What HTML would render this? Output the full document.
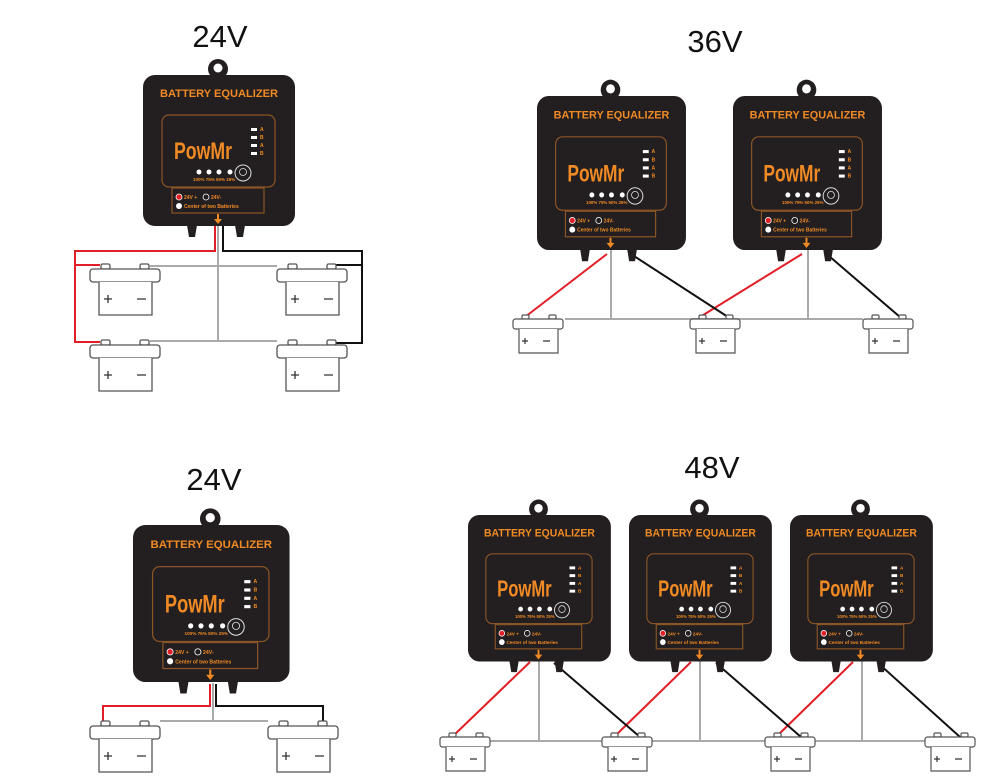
<!DOCTYPE html>
<html><head><meta charset="utf-8"><style>
html,body{margin:0;padding:0;background:#fff;}
svg{display:block;font-family:"Liberation Sans",sans-serif;}
.t{fill:#f08a24;font-weight:bold;}
.w{fill:#fff;}
</style></head><body>
<svg width="1000" height="784" viewBox="0 0 1000 784" xmlns="http://www.w3.org/2000/svg">
<g font-size="31" fill="#111" text-anchor="middle">
<text x="220" y="47">24V</text>
<text x="715" y="52">36V</text>
<text x="214" y="490">24V</text>
<text x="712" y="478">48V</text>
</g>

<g fill="none" stroke-width="2">
<path d="M218 225V342M150 266H277M150 341H277" stroke="#aaa"/>
<path d="M215 226V251H75V342H100M75 265H100" stroke="#e21e26"/>
<path d="M223 226V251H362V343H335M362 265H335" stroke="#111"/>
</g>
<g fill="#fff" stroke="#555" stroke-width="1.3">
<g id="bl1"><rect x="101" y="264" width="9" height="5" rx="1.5"/><rect x="140" y="264" width="9" height="5" rx="1.5"/><rect x="90" y="269" width="70" height="13" rx="3"/><path d="M99 282V315H152V282"/><path d="M104 299h8M108 295v8M137 299h9" stroke="#333"/></g>
<use href="#bl1" x="187"/><use href="#bl1" y="76"/><use href="#bl1" x="187" y="76"/>
</g>

<g fill="none" stroke-width="2">
<path d="M565 319H863M611 250V319M808 250V319" stroke="#aaa"/>
<path d="M607 254L525 317M802 254L700 317" stroke="#e21e26"/>
<path d="M634 256L728 317M829 256L900 317" stroke="#111"/>
</g>
<g fill="#fff" stroke="#555" stroke-width="1.2">
<g id="bs1"><rect x="522" y="315" width="7" height="4" rx="1.2"/><rect x="549" y="315" width="7" height="4" rx="1.2"/><rect x="513" y="319" width="50" height="10" rx="2.5"/><path d="M519 329V353H558V329"/><path d="M522 341h6M525 338v6M543 341h7" stroke="#333"/></g>
<use href="#bs1" x="177"/><use href="#bs1" x="350"/>
</g>

<g fill="none" stroke-width="2">
<path d="M213 683V721M160 721H268" stroke="#aaa"/>
<path d="M210 684V706H103V722" stroke="#e21e26"/>
<path d="M216 684V706H323V722" stroke="#111"/>
</g>
<g fill="#fff" stroke="#555" stroke-width="1.3">
<use href="#bl1" y="457"/><use href="#bl1" x="178" y="457"/>
</g>

<g fill="none" stroke-width="2">
<path d="M440 741H975M539 660V741M700 660V741M862 660V741" stroke="#aaa"/>
<path d="M530 662L452 737M691 662L614 737M853 662L776 737" stroke="#e21e26"/>
<path d="M554 663L640 737M716 663L801 737M878 663L960 737" stroke="#111"/>
</g>
<g fill="#fff" stroke="#555" stroke-width="1.2">
<use href="#bs1" x="-73" y="418"/><use href="#bs1" x="89" y="418"/><use href="#bs1" x="252" y="418"/><use href="#bs1" x="412" y="418"/>
</g>

<g transform="translate(143,75)">
<circle cx="75" cy="-6" r="10" fill="#231f20"/><circle cx="75" cy="-7" r="4.5" fill="#fff"/>
<path d="M44 150l2 12h6l2-12zM92 150l2 12h6l2-12z" fill="#231f20"/>
<rect x="0" y="0" width="152" height="151" rx="12" fill="#231f20"/>
<text class="t" x="17" y="22" font-size="11" textLength="118" lengthAdjust="spacingAndGlyphs">BATTERY EQUALIZER</text>
<rect x="19" y="40" width="113" height="72" rx="7" fill="none" stroke="#8a5526" stroke-width="1.2"/>
<text class="t" x="31" y="84" font-size="24" textLength="58" lengthAdjust="spacingAndGlyphs">PowMr</text>
<g class="w"><rect x="108" y="53" width="6" height="3"/><rect x="108" y="61" width="6" height="3"/><rect x="108" y="69" width="6" height="3"/><rect x="108" y="77" width="6" height="3"/></g>
<g class="t" font-size="5"><text x="117" y="56">A</text><text x="117" y="64">B</text><text x="117" y="72">A</text><text x="117" y="80">B</text></g>
<g class="w"><circle cx="56" cy="97" r="2.5"/><circle cx="66" cy="97" r="2.5"/><circle cx="76" cy="97" r="2.5"/><circle cx="87" cy="97" r="2.5"/></g>
<text class="t" x="50" y="106" font-size="4.5">100% 75%  50% 25%</text>
<circle cx="100" cy="98" r="8" fill="none" stroke="#ddd" stroke-width="1"/><circle cx="100" cy="97" r="3.5" fill="none" stroke="#ddd" stroke-width=".8"/>
<rect x="29" y="113" width="92" height="25" fill="none" stroke="#8a5526" stroke-width="1.2"/>
<circle cx="36" cy="122" r="3" fill="#e21e26" stroke="#fff" stroke-width=".8"/><text class="t" x="41" y="124" font-size="5">24V +</text>
<circle cx="63" cy="122" r="3" fill="none" stroke="#fff" stroke-width=".8"/><text class="t" x="68" y="124" font-size="5">24V-</text>
<circle cx="36" cy="131" r="3" fill="#fff"/><text class="t" x="41" y="133" font-size="5">Center of  two Batteries</text>
<path d="M75 139v6" stroke="#f08a24" stroke-width="2"/><path d="M71 144h8l-4 5z" fill="#f08a24"/>
</g>

<g transform="translate(537,96) scale(0.98,1.02)">
<circle cx="75" cy="-6" r="10" fill="#231f20"/><circle cx="75" cy="-7" r="4.5" fill="#fff"/>
<path d="M44 150l2 12h6l2-12zM92 150l2 12h6l2-12z" fill="#231f20"/>
<rect x="0" y="0" width="152" height="151" rx="12" fill="#231f20"/>
<text class="t" x="17" y="22" font-size="11" textLength="118" lengthAdjust="spacingAndGlyphs">BATTERY EQUALIZER</text>
<rect x="19" y="40" width="113" height="72" rx="7" fill="none" stroke="#8a5526" stroke-width="1.2"/>
<text class="t" x="31" y="84" font-size="24" textLength="58" lengthAdjust="spacingAndGlyphs">PowMr</text>
<g class="w"><rect x="108" y="53" width="6" height="3"/><rect x="108" y="61" width="6" height="3"/><rect x="108" y="69" width="6" height="3"/><rect x="108" y="77" width="6" height="3"/></g>
<g class="t" font-size="5"><text x="117" y="56">A</text><text x="117" y="64">B</text><text x="117" y="72">A</text><text x="117" y="80">B</text></g>
<g class="w"><circle cx="56" cy="97" r="2.5"/><circle cx="66" cy="97" r="2.5"/><circle cx="76" cy="97" r="2.5"/><circle cx="87" cy="97" r="2.5"/></g>
<text class="t" x="50" y="106" font-size="4.5">100% 75%  50% 25%</text>
<circle cx="100" cy="98" r="8" fill="none" stroke="#ddd" stroke-width="1"/><circle cx="100" cy="97" r="3.5" fill="none" stroke="#ddd" stroke-width=".8"/>
<rect x="29" y="113" width="92" height="25" fill="none" stroke="#8a5526" stroke-width="1.2"/>
<circle cx="36" cy="122" r="3" fill="#e21e26" stroke="#fff" stroke-width=".8"/><text class="t" x="41" y="124" font-size="5">24V +</text>
<circle cx="63" cy="122" r="3" fill="none" stroke="#fff" stroke-width=".8"/><text class="t" x="68" y="124" font-size="5">24V-</text>
<circle cx="36" cy="131" r="3" fill="#fff"/><text class="t" x="41" y="133" font-size="5">Center of  two Batteries</text>
<path d="M75 139v6" stroke="#f08a24" stroke-width="2"/><path d="M71 144h8l-4 5z" fill="#f08a24"/>
</g>

<g transform="translate(733,96) scale(0.98,1.02)">
<circle cx="75" cy="-6" r="10" fill="#231f20"/><circle cx="75" cy="-7" r="4.5" fill="#fff"/>
<path d="M44 150l2 12h6l2-12zM92 150l2 12h6l2-12z" fill="#231f20"/>
<rect x="0" y="0" width="152" height="151" rx="12" fill="#231f20"/>
<text class="t" x="17" y="22" font-size="11" textLength="118" lengthAdjust="spacingAndGlyphs">BATTERY EQUALIZER</text>
<rect x="19" y="40" width="113" height="72" rx="7" fill="none" stroke="#8a5526" stroke-width="1.2"/>
<text class="t" x="31" y="84" font-size="24" textLength="58" lengthAdjust="spacingAndGlyphs">PowMr</text>
<g class="w"><rect x="108" y="53" width="6" height="3"/><rect x="108" y="61" width="6" height="3"/><rect x="108" y="69" width="6" height="3"/><rect x="108" y="77" width="6" height="3"/></g>
<g class="t" font-size="5"><text x="117" y="56">A</text><text x="117" y="64">B</text><text x="117" y="72">A</text><text x="117" y="80">B</text></g>
<g class="w"><circle cx="56" cy="97" r="2.5"/><circle cx="66" cy="97" r="2.5"/><circle cx="76" cy="97" r="2.5"/><circle cx="87" cy="97" r="2.5"/></g>
<text class="t" x="50" y="106" font-size="4.5">100% 75%  50% 25%</text>
<circle cx="100" cy="98" r="8" fill="none" stroke="#ddd" stroke-width="1"/><circle cx="100" cy="97" r="3.5" fill="none" stroke="#ddd" stroke-width=".8"/>
<rect x="29" y="113" width="92" height="25" fill="none" stroke="#8a5526" stroke-width="1.2"/>
<circle cx="36" cy="122" r="3" fill="#e21e26" stroke="#fff" stroke-width=".8"/><text class="t" x="41" y="124" font-size="5">24V +</text>
<circle cx="63" cy="122" r="3" fill="none" stroke="#fff" stroke-width=".8"/><text class="t" x="68" y="124" font-size="5">24V-</text>
<circle cx="36" cy="131" r="3" fill="#fff"/><text class="t" x="41" y="133" font-size="5">Center of  two Batteries</text>
<path d="M75 139v6" stroke="#f08a24" stroke-width="2"/><path d="M71 144h8l-4 5z" fill="#f08a24"/>
</g>

<g transform="translate(133,525) scale(1.03,1.04)">
<circle cx="75" cy="-6" r="10" fill="#231f20"/><circle cx="75" cy="-7" r="4.5" fill="#fff"/>
<path d="M44 150l2 12h6l2-12zM92 150l2 12h6l2-12z" fill="#231f20"/>
<rect x="0" y="0" width="152" height="151" rx="12" fill="#231f20"/>
<text class="t" x="17" y="22" font-size="11" textLength="118" lengthAdjust="spacingAndGlyphs">BATTERY EQUALIZER</text>
<rect x="19" y="40" width="113" height="72" rx="7" fill="none" stroke="#8a5526" stroke-width="1.2"/>
<text class="t" x="31" y="84" font-size="24" textLength="58" lengthAdjust="spacingAndGlyphs">PowMr</text>
<g class="w"><rect x="108" y="53" width="6" height="3"/><rect x="108" y="61" width="6" height="3"/><rect x="108" y="69" width="6" height="3"/><rect x="108" y="77" width="6" height="3"/></g>
<g class="t" font-size="5"><text x="117" y="56">A</text><text x="117" y="64">B</text><text x="117" y="72">A</text><text x="117" y="80">B</text></g>
<g class="w"><circle cx="56" cy="97" r="2.5"/><circle cx="66" cy="97" r="2.5"/><circle cx="76" cy="97" r="2.5"/><circle cx="87" cy="97" r="2.5"/></g>
<text class="t" x="50" y="106" font-size="4.5">100% 75%  50% 25%</text>
<circle cx="100" cy="98" r="8" fill="none" stroke="#ddd" stroke-width="1"/><circle cx="100" cy="97" r="3.5" fill="none" stroke="#ddd" stroke-width=".8"/>
<rect x="29" y="113" width="92" height="25" fill="none" stroke="#8a5526" stroke-width="1.2"/>
<circle cx="36" cy="122" r="3" fill="#e21e26" stroke="#fff" stroke-width=".8"/><text class="t" x="41" y="124" font-size="5">24V +</text>
<circle cx="63" cy="122" r="3" fill="none" stroke="#fff" stroke-width=".8"/><text class="t" x="68" y="124" font-size="5">24V-</text>
<circle cx="36" cy="131" r="3" fill="#fff"/><text class="t" x="41" y="133" font-size="5">Center of  two Batteries</text>
<path d="M75 139v6" stroke="#f08a24" stroke-width="2"/><path d="M71 144h8l-4 5z" fill="#f08a24"/>
</g>

<g transform="translate(468,515) scale(0.94,0.97)">
<circle cx="75" cy="-6" r="10" fill="#231f20"/><circle cx="75" cy="-7" r="4.5" fill="#fff"/>
<path d="M44 150l2 12h6l2-12zM92 150l2 12h6l2-12z" fill="#231f20"/>
<rect x="0" y="0" width="152" height="151" rx="12" fill="#231f20"/>
<text class="t" x="17" y="22" font-size="11" textLength="118" lengthAdjust="spacingAndGlyphs">BATTERY EQUALIZER</text>
<rect x="19" y="40" width="113" height="72" rx="7" fill="none" stroke="#8a5526" stroke-width="1.2"/>
<text class="t" x="31" y="84" font-size="24" textLength="58" lengthAdjust="spacingAndGlyphs">PowMr</text>
<g class="w"><rect x="108" y="53" width="6" height="3"/><rect x="108" y="61" width="6" height="3"/><rect x="108" y="69" width="6" height="3"/><rect x="108" y="77" width="6" height="3"/></g>
<g class="t" font-size="5"><text x="117" y="56">A</text><text x="117" y="64">B</text><text x="117" y="72">A</text><text x="117" y="80">B</text></g>
<g class="w"><circle cx="56" cy="97" r="2.5"/><circle cx="66" cy="97" r="2.5"/><circle cx="76" cy="97" r="2.5"/><circle cx="87" cy="97" r="2.5"/></g>
<text class="t" x="50" y="106" font-size="4.5">100% 75%  50% 25%</text>
<circle cx="100" cy="98" r="8" fill="none" stroke="#ddd" stroke-width="1"/><circle cx="100" cy="97" r="3.5" fill="none" stroke="#ddd" stroke-width=".8"/>
<rect x="29" y="113" width="92" height="25" fill="none" stroke="#8a5526" stroke-width="1.2"/>
<circle cx="36" cy="122" r="3" fill="#e21e26" stroke="#fff" stroke-width=".8"/><text class="t" x="41" y="124" font-size="5">24V +</text>
<circle cx="63" cy="122" r="3" fill="none" stroke="#fff" stroke-width=".8"/><text class="t" x="68" y="124" font-size="5">24V-</text>
<circle cx="36" cy="131" r="3" fill="#fff"/><text class="t" x="41" y="133" font-size="5">Center of  two Batteries</text>
<path d="M75 139v6" stroke="#f08a24" stroke-width="2"/><path d="M71 144h8l-4 5z" fill="#f08a24"/>
</g>

<g transform="translate(629,515) scale(0.94,0.97)">
<circle cx="75" cy="-6" r="10" fill="#231f20"/><circle cx="75" cy="-7" r="4.5" fill="#fff"/>
<path d="M44 150l2 12h6l2-12zM92 150l2 12h6l2-12z" fill="#231f20"/>
<rect x="0" y="0" width="152" height="151" rx="12" fill="#231f20"/>
<text class="t" x="17" y="22" font-size="11" textLength="118" lengthAdjust="spacingAndGlyphs">BATTERY EQUALIZER</text>
<rect x="19" y="40" width="113" height="72" rx="7" fill="none" stroke="#8a5526" stroke-width="1.2"/>
<text class="t" x="31" y="84" font-size="24" textLength="58" lengthAdjust="spacingAndGlyphs">PowMr</text>
<g class="w"><rect x="108" y="53" width="6" height="3"/><rect x="108" y="61" width="6" height="3"/><rect x="108" y="69" width="6" height="3"/><rect x="108" y="77" width="6" height="3"/></g>
<g class="t" font-size="5"><text x="117" y="56">A</text><text x="117" y="64">B</text><text x="117" y="72">A</text><text x="117" y="80">B</text></g>
<g class="w"><circle cx="56" cy="97" r="2.5"/><circle cx="66" cy="97" r="2.5"/><circle cx="76" cy="97" r="2.5"/><circle cx="87" cy="97" r="2.5"/></g>
<text class="t" x="50" y="106" font-size="4.5">100% 75%  50% 25%</text>
<circle cx="100" cy="98" r="8" fill="none" stroke="#ddd" stroke-width="1"/><circle cx="100" cy="97" r="3.5" fill="none" stroke="#ddd" stroke-width=".8"/>
<rect x="29" y="113" width="92" height="25" fill="none" stroke="#8a5526" stroke-width="1.2"/>
<circle cx="36" cy="122" r="3" fill="#e21e26" stroke="#fff" stroke-width=".8"/><text class="t" x="41" y="124" font-size="5">24V +</text>
<circle cx="63" cy="122" r="3" fill="none" stroke="#fff" stroke-width=".8"/><text class="t" x="68" y="124" font-size="5">24V-</text>
<circle cx="36" cy="131" r="3" fill="#fff"/><text class="t" x="41" y="133" font-size="5">Center of  two Batteries</text>
<path d="M75 139v6" stroke="#f08a24" stroke-width="2"/><path d="M71 144h8l-4 5z" fill="#f08a24"/>
</g>

<g transform="translate(790,515) scale(0.94,0.97)">
<circle cx="75" cy="-6" r="10" fill="#231f20"/><circle cx="75" cy="-7" r="4.5" fill="#fff"/>
<path d="M44 150l2 12h6l2-12zM92 150l2 12h6l2-12z" fill="#231f20"/>
<rect x="0" y="0" width="152" height="151" rx="12" fill="#231f20"/>
<text class="t" x="17" y="22" font-size="11" textLength="118" lengthAdjust="spacingAndGlyphs">BATTERY EQUALIZER</text>
<rect x="19" y="40" width="113" height="72" rx="7" fill="none" stroke="#8a5526" stroke-width="1.2"/>
<text class="t" x="31" y="84" font-size="24" textLength="58" lengthAdjust="spacingAndGlyphs">PowMr</text>
<g class="w"><rect x="108" y="53" width="6" height="3"/><rect x="108" y="61" width="6" height="3"/><rect x="108" y="69" width="6" height="3"/><rect x="108" y="77" width="6" height="3"/></g>
<g class="t" font-size="5"><text x="117" y="56">A</text><text x="117" y="64">B</text><text x="117" y="72">A</text><text x="117" y="80">B</text></g>
<g class="w"><circle cx="56" cy="97" r="2.5"/><circle cx="66" cy="97" r="2.5"/><circle cx="76" cy="97" r="2.5"/><circle cx="87" cy="97" r="2.5"/></g>
<text class="t" x="50" y="106" font-size="4.5">100% 75%  50% 25%</text>
<circle cx="100" cy="98" r="8" fill="none" stroke="#ddd" stroke-width="1"/><circle cx="100" cy="97" r="3.5" fill="none" stroke="#ddd" stroke-width=".8"/>
<rect x="29" y="113" width="92" height="25" fill="none" stroke="#8a5526" stroke-width="1.2"/>
<circle cx="36" cy="122" r="3" fill="#e21e26" stroke="#fff" stroke-width=".8"/><text class="t" x="41" y="124" font-size="5">24V +</text>
<circle cx="63" cy="122" r="3" fill="none" stroke="#fff" stroke-width=".8"/><text class="t" x="68" y="124" font-size="5">24V-</text>
<circle cx="36" cy="131" r="3" fill="#fff"/><text class="t" x="41" y="133" font-size="5">Center of  two Batteries</text>
<path d="M75 139v6" stroke="#f08a24" stroke-width="2"/><path d="M71 144h8l-4 5z" fill="#f08a24"/>
</g>
</svg>
</body></html>
